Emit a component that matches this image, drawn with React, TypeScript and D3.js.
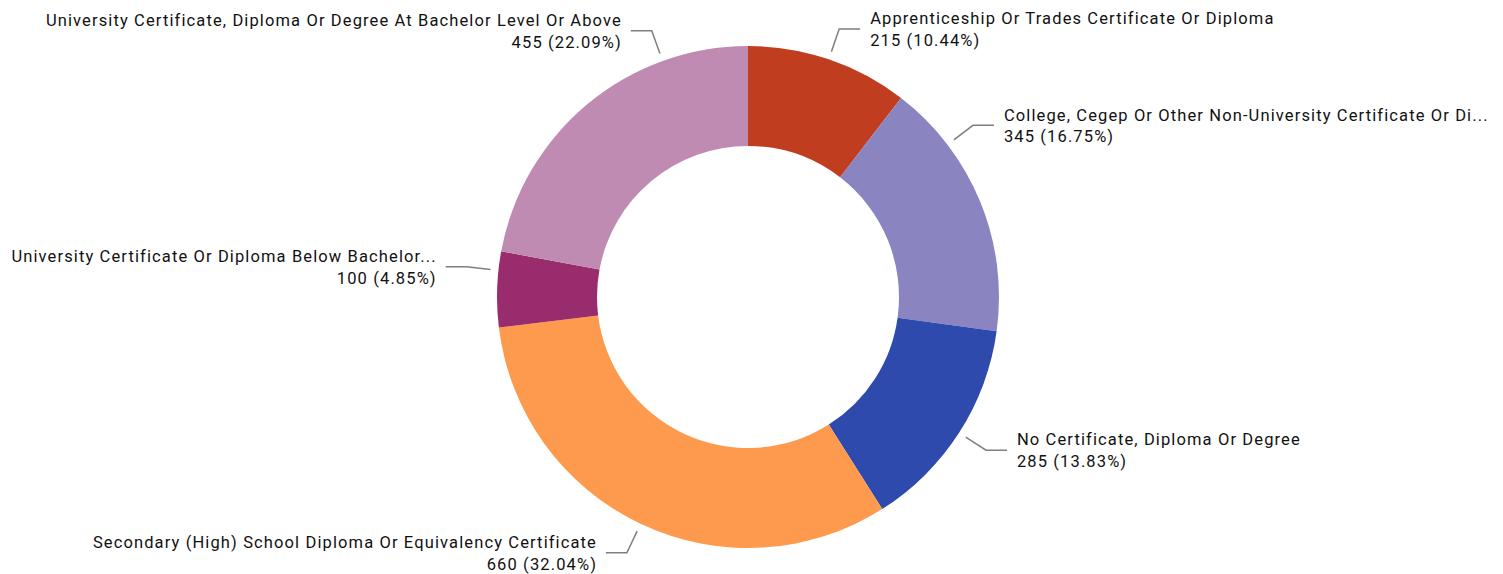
import React from "react";
import * as d3 from "d3";

const categories = [
  "Apprenticeship Or Trades Certificate Or Diploma",
  "College, Cegep Or Other Non-University Certificate Or Diploma",
  "No Certificate, Diploma Or Degree",
  "Secondary (High) School Diploma Or Equivalency Certificate",
  "University Certificate Or Diploma Below Bachelor Level",
  "University Certificate, Diploma Or Degree At Bachelor Level Or Above",
];
const values = [215, 345, 285, 660, 100, 455];
const colors = ["#C03D1F", "#8A85C0", "#2F4AAD", "#FE9A4D", "#982C6C", "#BF8BB2"];

const W = 1503;
const H = 574;
const CX = 748;
const CY = 297;
const R_OUT = 251;
const R_IN = 151;
const R_START = 259;
const R_ELBOW = 283;
const SEG2 = 21;
const GAP = 10;
const LEFT_BOUND = 6;
const RIGHT_BOUND = 1493;
const FONT_SIZE = 16.5;
const LETTER_SP = 1.12;
const FONT_FAMILY = "Roboto, 'Noto Sans', sans-serif";
const LINE_H = 21.7;

let ctx: CanvasRenderingContext2D | null = null;
function measure(t: string): number {
  if (!ctx) {
    const c = document.createElement("canvas");
    ctx = c.getContext("2d");
  }
  if (!ctx) return t.length * 8.5;
  ctx.font = `${FONT_SIZE}px ${FONT_FAMILY}`;
  return ctx.measureText(t).width + t.length * LETTER_SP;
}

function truncate(t: string, avail: number): string {
  if (measure(t) <= avail) return t;
  let s = t;
  while (s.length > 0 && measure(s + "...") > avail) s = s.slice(0, -1);
  return s + "...";
}

export default function App() {
  const total = d3.sum(values);
  const pie = d3
    .pie<number>()
    .sort(null)
    .value((d) => d)
    .startAngle(0)
    .endAngle(2 * Math.PI);
  const arcs = pie(values);
  const arcGen = d3.arc<d3.PieArcDatum<number>>().innerRadius(R_IN).outerRadius(R_OUT);
  const pct = d3.format(".2f");

  const labels = arcs.map((a, i) => {
    const full = categories[i];
    const fullW = measure(full);
    const cand = [0.5, 0.25, 0.75].map((f) => {
      const ang = a.startAngle + (a.endAngle - a.startAngle) * f;
      const sx = Math.sin(ang);
      const right = sx >= 0;
      const ex = CX + R_ELBOW * sx;
      const tx = right ? ex + SEG2 + GAP : ex - SEG2 - GAP;
      const avail = right ? RIGHT_BOUND - tx : tx - LEFT_BOUND;
      return { ang, avail, right };
    });
    let pick = cand[0];
    if (fullW > cand[0].avail) {
      pick = cand.reduce((b, c) => (c.avail > b.avail ? c : b), cand[0]);
    }
    const { ang, right, avail } = pick;
    const s = Math.sin(ang);
    const c = -Math.cos(ang);
    const p0 = [CX + R_START * s, CY + R_START * c];
    const p1 = [CX + R_ELBOW * s, CY + R_ELBOW * c];
    const p2 = [p1[0] + (right ? SEG2 : -SEG2), p1[1]];
    const tx = p2[0] + (right ? GAP : -GAP + LETTER_SP);
    return {
      points: [p0, p1, p2],
      tx,
      ty: p1[1],
      anchor: right ? "start" : "end",
      line1: truncate(full, avail),
      line2: `${values[i]} (${pct((values[i] / total) * 100)}%)`,
    };
  });

  const lineGen = d3.line();

  return (
    <svg
      width={W}
      height={H}
      style={{ position: "absolute", left: 0, top: 0, background: "#fff" }}
      fontFamily={FONT_FAMILY}
      fontSize={FONT_SIZE}
      letterSpacing={LETTER_SP}
    >
      <g>
        {arcs.map((a, i) => (
          <path key={i} d={arcGen(a) || ""} transform={`translate(${CX},${CY})`} fill={colors[i]} />
        ))}
      </g>
      <g>
        {labels.map((l, i) => (
          <g key={i}>
            <path d={lineGen(l.points as [number, number][]) || ""} fill="none" stroke="#7f7f7f" strokeWidth={1.5} />
            <text x={l.tx} y={l.ty - 4.7} textAnchor={l.anchor} fill="#111">
              {l.line1}
            </text>
            <text x={l.tx} y={l.ty - 4.7 + LINE_H} textAnchor={l.anchor} fill="#111">
              {l.line2}
            </text>
          </g>
        ))}
      </g>
    </svg>
  );
}
